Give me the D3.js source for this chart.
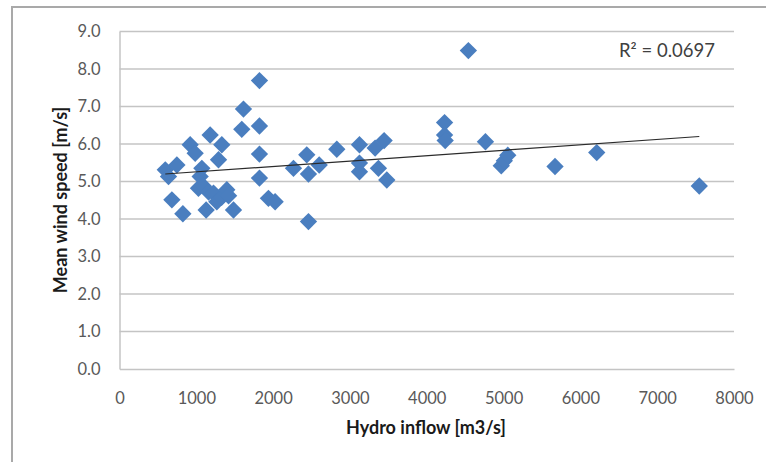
<!DOCTYPE html>
<html>
<head>
<meta charset="utf-8">
<script src="https://cdn.jsdelivr.net/npm/d3@7"></script>
<style>
  html, body { margin: 0; padding: 0; background: #fff; }
  svg { display: block; }
</style>
</head>
<body>
<svg id="chart" width="766" height="462"></svg>
<script>
// Monthly hydro inflow [m3/s] against mean wind speed [m/s]
const inflow = [
  596, 638, 747, 682, 825, 920, 985, 1028, 1050, 1072, 1090, 1128, 1160, 1180,
  1224, 1267, 1289, 1330, 1332, 1397, 1420, 1484, 1592, 1614, 1822, 1822, 1822,
  1822, 1939, 2026, 2265, 2438, 2460, 2460, 2600, 2829, 3124, 3124, 3124, 3328,
  3371, 3445, 3480, 4232, 4232, 4240, 4542, 4764, 4970, 5010, 5055, 5670, 6213,
  7548
];
const windSpeed = [
  5.31, 5.13, 5.44, 4.51, 4.14, 5.98, 5.75, 4.82, 5.13, 5.35, 4.88, 4.24, 4.72, 6.24,
  4.69, 4.46, 5.58, 4.58, 5.98, 4.78, 4.62, 4.24, 6.39, 6.93, 7.69, 6.48, 5.73,
  5.09, 4.55, 4.46, 5.35, 5.71, 5.20, 3.93, 5.44, 5.86, 5.98, 5.49, 5.26, 5.89,
  5.35, 6.09, 5.04, 6.57, 6.24, 6.09, 8.49, 6.06, 5.42, 5.55, 5.70, 5.40, 5.77,
  4.88
];
const xTicks = [0, 1000, 2000, 3000, 4000, 5000, 6000, 7000, 8000];
const yTicks = [0, 1, 2, 3, 4, 5, 6, 7, 8, 9];

// Linear trendline: y = intercept + slope * x, drawn over the data range
const trendIntercept = 5.114;
const trendSlope = 0.0001438;
const rSquared = "0.0697";

const FONT = "Lato, 'Open Sans', sans-serif";

const svg = d3.select("#chart");
const plot = { left: 119.5, right: 734, top: 31.5, bottom: 369 };

const x = d3.scaleLinear().domain([0, 8000]).range([plot.left, plot.right]);
const y = d3.scaleLinear().domain([0, 9]).range([plot.bottom, plot.top]);

// Outer frame
svg.append("path")
  .attr("d", "M12,470 L12,7 L780,7")
  .attr("fill", "none")
  .attr("stroke", "#a9a9a9")
  .attr("stroke-width", 2);

// Horizontal gridlines
svg.append("g")
  .selectAll("line")
  .data(yTicks.filter(d => d > 0))
  .join("line")
  .attr("x1", plot.left).attr("x2", plot.right)
  .attr("y1", d => y(d)).attr("y2", d => y(d))
  .attr("stroke", "#c4c4c4")
  .attr("stroke-width", 1.5);

// Y axis
const yAxis = svg.append("g")
  .attr("transform", `translate(${plot.left},0)`)
  .call(d3.axisLeft(y).tickValues(yTicks).tickFormat(d3.format(".1f")).tickSize(0).tickPadding(19));
yAxis.select(".domain").attr("stroke", "#c4c4c4").attr("stroke-width", 1.5);

// X axis
const xAxis = svg.append("g")
  .attr("transform", `translate(0,${plot.bottom})`)
  .call(d3.axisBottom(x).tickValues(xTicks).tickFormat(d3.format("d")).tickSize(0).tickPadding(23));
xAxis.select(".domain").attr("stroke", "#c4c4c4").attr("stroke-width", 1.5);

svg.selectAll(".tick text")
  .attr("font-family", FONT)
  .attr("font-size", 16.5)
  .attr("fill", "#595959");

// Data points as diamonds
const diamond = d3.symbol().type(d3.symbolSquare).size(150);
svg.append("g")
  .selectAll("path")
  .data(inflow.map((v, i) => [v, windSpeed[i]]))
  .join("path")
  .attr("d", diamond)
  .attr("transform", d => `translate(${x(d[0])},${y(d[1])}) rotate(45)`)
  .attr("fill", "#4a7ebf");

// Trendline
const xMin = d3.min(inflow), xMax = d3.max(inflow);
svg.append("line")
  .attr("x1", x(xMin)).attr("y1", y(trendIntercept + trendSlope * xMin))
  .attr("x2", x(xMax)).attr("y2", y(trendIntercept + trendSlope * xMax))
  .attr("stroke", "#2b2b2b")
  .attr("stroke-width", 1.2);

// R² label
svg.append("text")
  .attr("x", 715).attr("y", 57)
  .attr("text-anchor", "end")
  .attr("font-family", FONT)
  .attr("font-size", 18.5)
  .attr("fill", "#404040")
  .text("R\u00B2 = " + rSquared);

// Axis titles
svg.append("text")
  .attr("x", 426).attr("y", 434)
  .attr("text-anchor", "middle")
  .attr("font-family", FONT)
  .attr("font-weight", "bold")
  .attr("font-size", 18)
  .attr("fill", "#1a1a1a")
  .text("Hydro inflow [m3/s]");

svg.append("text")
  .attr("transform", "translate(67,200) rotate(-90)")
  .attr("text-anchor", "middle")
  .attr("font-family", FONT)
  .attr("font-weight", "bold")
  .attr("font-size", 18)
  .attr("fill", "#1a1a1a")
  .text("Mean wind speed [m/s]");
</script>
</body>
</html>
